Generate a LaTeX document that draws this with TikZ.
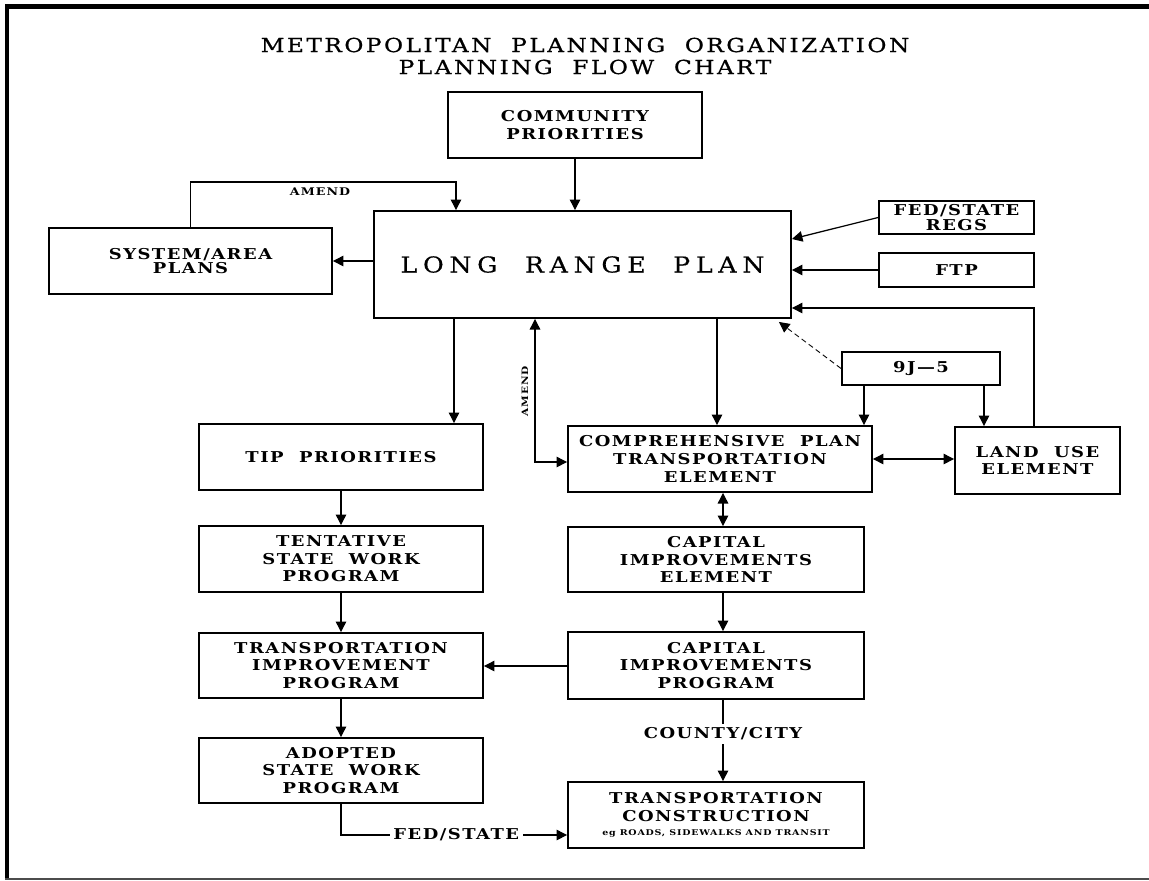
\documentclass[tikz,border=0pt]{standalone}
\usepackage{fontspec}
\setmainfont{DejaVu Serif}
\newfontfamily\titlefnt[FakeStretch=1.2,LetterSpace=13,FakeBold=0.8]{DejaVu Serif}
\newfontfamily\boxfnt[FakeStretch=1.2,LetterSpace=10]{DejaVu Serif}
\newfontfamily\bigfnt[FakeStretch=1.15,LetterSpace=26,FakeBold=0.4]{DejaVu Serif}
\usetikzlibrary{arrows.meta}

\begin{document}
\begin{tikzpicture}[x=0.02cm,y=-0.02cm,
  box/.style={draw, line width=1.1pt, align=center, inner sep=0pt,
    font=\boxfnt\bfseries\fontsize{8.5}{10}\selectfont},
  arr/.style={line width=0.7pt, -{Triangle[length=6pt,width=6pt]}},
  darr/.style={line width=0.7pt, {Triangle[length=6pt,width=6pt]}-{Triangle[length=6pt,width=6pt]}},
  lbl/.style={font=\boxfnt\bfseries\fontsize{8.5}{10}\selectfont, fill=white, inner sep=2pt}]

\useasboundingbox (0,0) rectangle (1149,880);

% Frame
\fill (5,4) rectangle (1149,9);
\fill (5,4) rectangle (9,880);
\draw[gray!60!black, line width=1pt] (5,879) -- (1149,879);

% Title
\node[font=\titlefnt\fontsize{11}{12.5}\selectfont, align=center] (title) at (585,56)
  {METROPOLITAN~~PLANNING~~ORGANIZATION\\PLANNING~~FLOW~~CHART};

% Top boxes
\node[box, minimum width=5.08cm, minimum height=1.32cm] (comm) at (575,125) {COMMUNITY\\PRIORITIES};
\node[box, minimum width=8.34cm, minimum height=2.14cm, font=\bigfnt\fontsize{12.5}{14}\selectfont] (lrp) at (582.5,264.5) {LONG~~RANGE~~PLAN};
\node[box, minimum width=5.66cm, minimum height=1.32cm, font=\boxfnt\bfseries\fontsize{8.5}{8}\selectfont] (sys) at (190.5,261) {SYSTEM/AREA\\PLANS};
\node[box, minimum width=3.1cm, minimum height=0.66cm, font=\boxfnt\bfseries\fontsize{8.5}{7}\selectfont] (regs) at (956.5,217.5) {FED/STATE\\REGS};
\node[box, minimum width=3.1cm, minimum height=0.68cm] (ftp) at (956.5,270) {FTP};
\node[box, minimum width=3.16cm, minimum height=0.66cm] (nj5) at (921,368.5) {9J—5};

% Left column
\node[box, minimum width=5.68cm, minimum height=1.32cm] (tip) at (341,457) {TIP~~PRIORITIES};
\node[box, minimum width=5.68cm, minimum height=1.32cm] (tent) at (341,559) {TENTATIVE\\STATE~~WORK\\PROGRAM};
\node[box, minimum width=5.68cm, minimum height=1.3cm] (tipp) at (341,665.5) {TRANSPORTATION\\IMPROVEMENT\\PROGRAM};
\node[box, minimum width=5.68cm, minimum height=1.3cm] (adopt) at (341,770.5) {ADOPTED\\STATE~~WORK\\PROGRAM};

% Right column
\node[box, minimum width=6.08cm, minimum height=1.32cm] (comp) at (720,459) {COMPREHENSIVE~~PLAN\\TRANSPORTATION\\ELEMENT};
\node[box, minimum width=3.3cm, minimum height=1.34cm] (land) at (1037.5,460.5) {LAND~~USE\\ELEMENT};
\node[box, minimum width=5.92cm, minimum height=1.3cm] (cape) at (716,559.5) {CAPITAL\\IMPROVEMENTS\\ELEMENT};
\node[box, minimum width=5.92cm, minimum height=1.34cm] (capp) at (716,665.5) {CAPITAL\\IMPROVEMENTS\\PROGRAM};
\node[box, minimum width=5.92cm, minimum height=1.32cm] (tc) at (716,815)
  {TRANSPORTATION\\CONSTRUCTION\\[-2pt]{\fontsize{4.5}{5}\selectfont eg ROADS, SIDEWALKS AND TRANSIT}};

% Into the long range plan
\coordinate (amendtop) at (456,182);
\draw[arr] (sys.north) |- (amendtop) -- (amendtop |- lrp.north);
\node[font=\boxfnt\bfseries\fontsize{6}{7}\selectfont] (amend) at (320,192) {AMEND};
\draw[arr] (comm.south) -- (comm.south |- lrp.north);
\draw[arr] (lrp.west |- sys.east) -- (sys.east);
\draw[arr] (regs.west) -- (lrp.east |- 0,239);
\draw[arr] (ftp.west) -- (ftp.west -| lrp.east);
\draw[arr] (1034,0 |- land.north) |- (lrp.east |- 0,308);
\draw[arr, densely dashed, line width=0.5pt] (nj5.west) -- ([xshift=-0.26cm,yshift=-0.06cm]lrp.south east);

% Out of the long range plan
\draw[arr] (454,0 |- lrp.south) -- (454,0 |- tip.north);
\draw[arr] (717,0 |- lrp.south) -- (717,0 |- comp.north);
\draw[darr] (comp.west |- 0,462) -| (535,0 |- lrp.south);
\node[font=\boxfnt\bfseries\fontsize{5}{6}\selectfont, rotate=90] (amendup) at (525,391) {AMEND};

% 9J-5
\draw[arr] (864,0 |- nj5.south) -- (864,0 |- comp.north);
\draw[arr] (984,0 |- nj5.south) -- (984,0 |- land.north);

% Comprehensive plan links
\draw[darr] (comp.east) -- (comp.east -| land.west);
\draw[darr] (723,0 |- comp.south) -- (723,0 |- cape.north);
\draw[arr] (723,0 |- cape.south) -- (723,0 |- capp.north);
\draw[arr] (capp.west |- 0,666) -- (tipp.east |- 0,666);
\draw[arr] (723,0 |- capp.south) -- node[lbl, pos=0.42] (cc) {COUNTY/CITY} (723,0 |- tc.north);

% Left column flow
\draw[arr] (tip.south) -- (tent.north);
\draw[arr] (tent.south) -- (tipp.north);
\draw[arr] (tipp.south) -- (adopt.north);
\draw[arr] (adopt.south) |- node[lbl, pos=0.755] (fs) {FED/STATE} (tc.west |- 0,835);

\end{tikzpicture}
\end{document}
